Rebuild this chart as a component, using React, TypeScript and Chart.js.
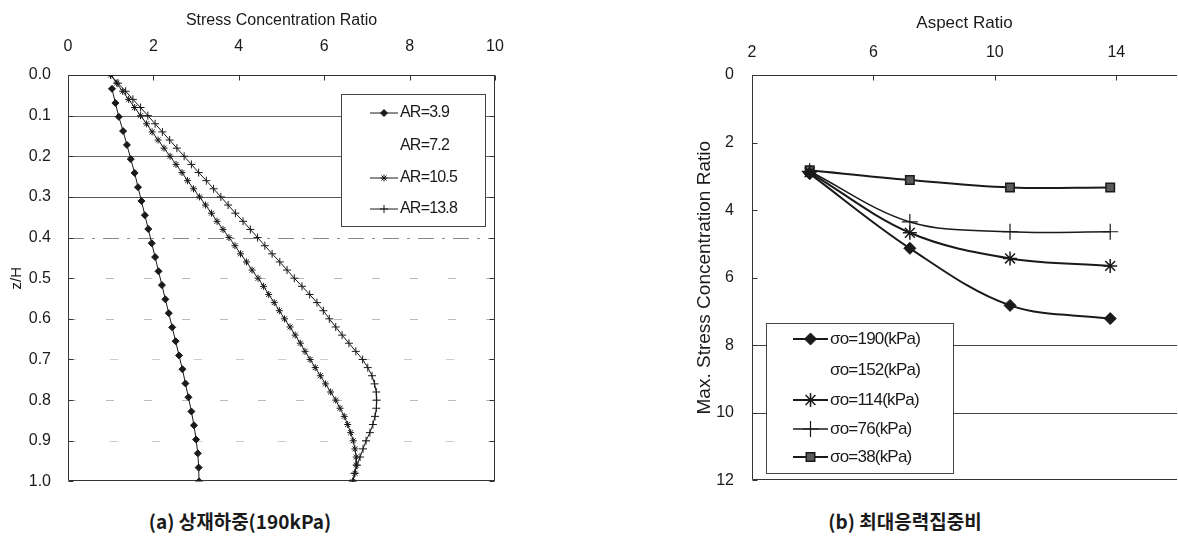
import React, { useEffect, useRef } from 'react';
import { Chart, registerables } from 'chart.js';
import { drawPoint } from 'chart.js/helpers';

Chart.register(...registerables);

// ---------- Left chart data: z/H vs stress concentration ratio (190 kPa) ----------
const leftLabels = ['AR=3.9', 'AR=7.2', 'AR=10.5', 'AR=13.8'];
const leftXTicks = [0, 2, 4, 6, 8, 10];
const leftYTicks = [0.0, 0.1, 0.2, 0.3, 0.4, 0.5, 0.6, 0.7, 0.8, 0.9, 1.0];

const zDiamond = [
  0.034, 0.069, 0.103, 0.138, 0.172, 0.207, 0.241, 0.276, 0.31, 0.345,
  0.379, 0.414, 0.448, 0.483, 0.517, 0.552, 0.586, 0.621, 0.655, 0.69,
  0.724, 0.759, 0.793, 0.828, 0.862, 0.897, 0.931, 0.966, 1.0,
];
const ar39 = [
  1.03, 1.11, 1.19, 1.29, 1.38, 1.47, 1.56, 1.64, 1.72, 1.8,
  1.88, 1.96, 2.04, 2.12, 2.2, 2.28, 2.36, 2.44, 2.52, 2.6,
  2.68, 2.75, 2.82, 2.89, 2.95, 3.0, 3.04, 3.06, 3.07,
];

const zDense = [
  0.0, 0.02, 0.04, 0.06, 0.08, 0.1, 0.12, 0.14, 0.16, 0.18,
  0.2, 0.22, 0.24, 0.26, 0.28, 0.3, 0.32, 0.34, 0.36, 0.38,
  0.4, 0.42, 0.44, 0.46, 0.48, 0.5, 0.52, 0.54, 0.56, 0.58,
  0.6, 0.62, 0.64, 0.66, 0.68, 0.7, 0.72, 0.74, 0.76, 0.78,
  0.8, 0.82, 0.84, 0.86, 0.88, 0.9, 0.92, 0.94, 0.96, 0.98, 1.0,
];
const ar105 = [
  1.0, 1.14, 1.28, 1.42, 1.56, 1.7, 1.84, 1.97, 2.11, 2.25,
  2.39, 2.53, 2.67, 2.8, 2.94, 3.08, 3.22, 3.36, 3.49, 3.63,
  3.77, 3.91, 4.04, 4.18, 4.31, 4.45, 4.58, 4.7, 4.83, 4.95,
  5.07, 5.2, 5.32, 5.44, 5.55, 5.67, 5.79, 5.91, 6.03, 6.15,
  6.27, 6.37, 6.47, 6.55, 6.62, 6.68, 6.72, 6.75, 6.75, 6.72, 6.67,
];
const ar138 = [
  1.0, 1.17, 1.35, 1.52, 1.7, 1.87, 2.04, 2.21, 2.38, 2.55,
  2.72, 2.89, 3.06, 3.24, 3.41, 3.58, 3.75, 3.92, 4.1, 4.27,
  4.44, 4.61, 4.78, 4.96, 5.13, 5.3, 5.48, 5.66, 5.83, 5.98,
  6.12, 6.27, 6.42, 6.58, 6.74, 6.9, 7.02, 7.12, 7.18, 7.22,
  7.23, 7.22, 7.19, 7.14, 7.07, 6.98, 6.91, 6.84, 6.77, 6.71, 6.67,
];

// ---------- Right chart data: max stress concentration ratio vs aspect ratio ----------
const rightLabels = ['σo=190(kPa)', 'σo=152(kPa)', 'σo=114(kPa)', 'σo=76(kPa)', 'σo=38(kPa)'];
const rightXTicks = [2, 6, 10, 14];
const rightYTicks = [0, 2, 4, 6, 8, 10, 12];
const aspectRatios = [3.9, 7.2, 10.5, 13.8];
const s190 = [2.92, 5.13, 6.82, 7.21];
const s114 = [2.88, 4.67, 5.43, 5.65];
const s76 = [2.85, 4.35, 4.64, 4.64];
const s38 = [2.82, 3.11, 3.33, 3.33];

const captionA = '(a) 상재하중(190kPa)';
const captionB = '(b) 최대응력집중비';

const FONT = "'Liberation Sans', Arial, sans-serif";
const INK = '#1a1a1a';

const framePlugin = {
  id: 'frame',
  beforeDatasetsDraw(chart: any, _args: any, opts: any) {
    const { ctx, chartArea: a, scales } = chart;
    ctx.save();
    ctx.lineWidth = 1;
    (opts.grid || []).forEach((g: any) => {
      const y = Math.round(scales.y.getPixelForValue(g.value)) + 0.5;
      ctx.beginPath();
      ctx.setLineDash(g.dash || []);
      ctx.strokeStyle = g.color;
      ctx.moveTo(a.left, y);
      ctx.lineTo(a.right, y);
      ctx.stroke();
    });
    ctx.setLineDash([]);
    ctx.strokeStyle = '#333';
    const L = Math.round(a.left) + 0.5;
    const R = Math.round(a.right) - 0.5;
    const T = Math.round(a.top) + 0.5;
    const B = Math.round(a.bottom) - 0.5;
    ctx.beginPath();
    ctx.moveTo(L, T); ctx.lineTo(R + 0.5, T);
    ctx.moveTo(L, T); ctx.lineTo(L, B);
    ctx.moveTo(L, B); ctx.lineTo(R + 0.5, B);
    if (opts.rightBorder) { ctx.moveTo(R, T); ctx.lineTo(R, B); }
    ctx.stroke();
    ctx.beginPath();
    scales.x.ticks.forEach((t: any) => {
      const x = Math.round(scales.x.getPixelForValue(t.value)) + 0.5;
      ctx.moveTo(x, T); ctx.lineTo(x, T + 5);
    });
    scales.y.ticks.forEach((t: any) => {
      const y = Math.round(scales.y.getPixelForValue(t.value)) + 0.5;
      ctx.moveTo(L, y); ctx.lineTo(L + 5, y);
      if (opts.rightBorder) { ctx.moveTo(R, y); ctx.lineTo(R - 5, y); }
    });
    ctx.stroke();
    ctx.restore();
  },
};

const boxLegendPlugin = {
  id: 'boxLegend',
  afterDatasetsDraw(chart: any, _args: any, opts: any) {
    const { ctx } = chart;
    const { box, rows, lineX1, lineX2, textX, fontSize } = opts;
    ctx.save();
    ctx.fillStyle = '#fff';
    ctx.fillRect(box.x, box.y, box.w, box.h);
    ctx.strokeStyle = '#444';
    ctx.lineWidth = 1;
    ctx.strokeRect(box.x + 0.5, box.y + 0.5, box.w, box.h);
    chart.data.datasets.forEach((ds: any, i: number) => {
      const y = rows[i];
      if (ds.data.length > 0) {
        ctx.strokeStyle = ds.borderColor;
        ctx.lineWidth = ds.borderWidth;
        ctx.beginPath();
        ctx.moveTo(lineX1, y);
        ctx.lineTo(lineX2, y);
        ctx.stroke();
        ctx.fillStyle = ds.backgroundColor;
        ctx.strokeStyle = ds.borderColor;
        ctx.lineWidth = ds.pointBorderWidth;
        drawPoint(ctx, {
          pointStyle: ds.pointStyle,
          radius: ds.pointRadius,
          rotation: 0,
          borderWidth: ds.pointBorderWidth,
        } as any, (lineX1 + lineX2) / 2, y);
      }
      ctx.fillStyle = INK;
      ctx.font = `${fontSize}px ${FONT}`;
      (ctx as any).letterSpacing = '-0.8px';
      ctx.textBaseline = 'middle';
      ctx.textAlign = 'left';
      ctx.fillText(ds.label, textX, y);
    });
    ctx.restore();
  },
};

function LeftChart() {
  const ref = useRef<HTMLCanvasElement>(null);
  useEffect(() => {
    const chart = new Chart(ref.current as HTMLCanvasElement, {
      type: 'line',
      data: {
        datasets: [
          {
            label: leftLabels[0],
            data: zDiamond.map((z, i) => ({ x: ar39[i], y: z })),
            borderColor: INK, backgroundColor: INK, borderWidth: 1,
            pointStyle: 'rectRot', pointRadius: 3.5, pointBorderWidth: 1,
          },
          {
            label: leftLabels[1], data: [],
            borderColor: INK, backgroundColor: INK, borderWidth: 1,
            pointRadius: 0, pointBorderWidth: 0,
          },
          {
            label: leftLabels[2],
            data: zDense.map((z, i) => ({ x: ar105[i], y: z })),
            borderColor: INK, backgroundColor: INK, borderWidth: 1,
            pointStyle: 'star', pointRadius: 3.5, pointBorderWidth: 1,
          },
          {
            label: leftLabels[3],
            data: zDense.map((z, i) => ({ x: ar138[i], y: z })),
            borderColor: INK, backgroundColor: INK, borderWidth: 1,
            pointStyle: 'cross', pointRadius: 4, pointBorderWidth: 1,
          },
        ] as any,
      },
      options: {
        animation: false,
        responsive: false,
        layout: { autoPadding: false, padding: { left: 0, right: 35, top: 0, bottom: 17 } },
        plugins: {
          legend: { display: false },
          tooltip: { enabled: false },
          frame: {
            rightBorder: true,
            grid: [
              { value: 0.1, color: '#666' },
              { value: 0.2, color: '#666' },
              { value: 0.3, color: '#555' },
              { value: 0.4, color: '#888', dash: [16, 8, 3, 8] },
              { value: 0.5, color: '#bbb', dash: [8, 30] },
              { value: 0.6, color: '#bbb', dash: [8, 30] },
              { value: 0.7, color: '#ccc', dash: [8, 34] },
              { value: 0.8, color: '#bbb', dash: [8, 30] },
              { value: 0.9, color: '#ccc', dash: [8, 34] },
            ],
          },
          boxLegend: {
            box: { x: 341, y: 94, w: 144, h: 132 },
            rows: [113, 146, 178, 209],
            lineX1: 370, lineX2: 398, textX: 400, fontSize: 16,
          },
        } as any,
        scales: {
          x: {
            type: 'linear', position: 'top', min: 0, max: 10,
            afterBuildTicks: (s: any) => { s.ticks = leftXTicks.map((v) => ({ value: v })); },
            ticks: { padding: 11, color: INK, font: { size: 16, family: FONT } },
            grid: { display: false }, border: { display: false },
            title: {
              display: true, text: 'Stress Concentration Ratio', color: INK,
              font: { size: 16, family: FONT }, padding: { top: 11, bottom: 0 },
            },
            afterFit: (s: any) => { s.height = 75; },
          },
          y: {
            type: 'linear', reverse: true, min: 0, max: 1,
            afterBuildTicks: (s: any) => { s.ticks = leftYTicks.map((v) => ({ value: v })); },
            ticks: {
              padding: 9, color: INK, font: { size: 16, family: FONT },
              callback: (v: any) => Number(v).toFixed(1),
            },
            grid: { display: false }, border: { display: false },
            title: {
              display: true, text: 'z/H', color: INK,
              font: { size: 15, family: FONT }, padding: { top: 8, bottom: 0 },
            },
            afterFit: (s: any) => { s.width = 68; },
          },
        } as any,
      },
      plugins: [framePlugin, boxLegendPlugin],
    });
    return () => chart.destroy();
  }, []);
  return <canvas ref={ref} width={530} height={500} style={{ width: 530, height: 500, display: 'block' }} />;
}

function RightChart() {
  const ref = useRef<HTMLCanvasElement>(null);
  useEffect(() => {
    const mk = (vals: number[]) => aspectRatios.map((x, i) => ({ x, y: vals[i] }));
    const chart = new Chart(ref.current as HTMLCanvasElement, {
      type: 'line',
      data: {
        datasets: [
          {
            label: rightLabels[0], data: mk(s190),
            borderColor: INK, backgroundColor: INK, borderWidth: 2,
            pointStyle: 'rectRot', pointRadius: 6, pointBorderWidth: 1,
          },
          {
            label: rightLabels[1], data: [],
            borderColor: INK, backgroundColor: INK, borderWidth: 2,
            pointRadius: 0, pointBorderWidth: 0,
          },
          {
            label: rightLabels[2], data: mk(s114),
            borderColor: INK, backgroundColor: INK, borderWidth: 2,
            pointStyle: 'star', pointRadius: 7, pointBorderWidth: 1.5,
          },
          {
            label: rightLabels[3], data: mk(s76),
            borderColor: INK, backgroundColor: INK, borderWidth: 1.5,
            pointStyle: 'cross', pointRadius: 8, pointBorderWidth: 1.2,
          },
          {
            label: rightLabels[4], data: mk(s38),
            borderColor: INK, backgroundColor: '#5a5a5a', borderWidth: 2,
            pointStyle: 'rect', pointRadius: 6, pointBorderWidth: 1.5,
          },
        ] as any,
      },
      options: {
        animation: false,
        responsive: false,
        elements: { line: { tension: 0.35 } },
        layout: { autoPadding: false, padding: { left: 0, right: 1, top: 0, bottom: 17 } },
        plugins: {
          legend: { display: false },
          tooltip: { enabled: false },
          frame: {
            rightBorder: false,
            grid: [
              { value: 8, color: '#444' },
              { value: 10, color: '#444' },
            ],
          },
          boxLegend: {
            box: { x: 86, y: 323, w: 187, h: 150 },
            rows: [339, 370, 400, 429, 457],
            lineX1: 113, lineX2: 148, textX: 150, fontSize: 17,
          },
        } as any,
        scales: {
          x: {
            type: 'linear', position: 'top', min: 2, max: 16,
            afterBuildTicks: (s: any) => { s.ticks = rightXTicks.map((v) => ({ value: v })); },
            ticks: { padding: 5, color: INK, font: { size: 16, family: FONT } },
            grid: { display: false }, border: { display: false },
            title: {
              display: true, text: 'Aspect Ratio', color: INK,
              font: { size: 17, family: FONT }, padding: { top: 13, bottom: 0 },
            },
            afterFit: (s: any) => { s.height = 75; },
          },
          y: {
            type: 'linear', reverse: true, min: 0, max: 12,
            afterBuildTicks: (s: any) => { s.ticks = rightYTicks.map((v) => ({ value: v })); },
            ticks: { padding: 10, color: INK, font: { size: 16, family: FONT } },
            grid: { display: false }, border: { display: false },
            title: {
              display: true, text: 'Max. Stress Concentration Ratio', color: INK,
              font: { size: 19, family: FONT }, padding: { top: 13, bottom: 0 },
            },
            afterFit: (s: any) => { s.width = 72; },
          },
        } as any,
      },
      plugins: [framePlugin, boxLegendPlugin],
    });
    return () => chart.destroy();
  }, []);
  return <canvas ref={ref} width={498} height={500} style={{ width: 498, height: 500, display: 'block' }} />;
}

const captionStyle: React.CSSProperties = {
  position: 'absolute',
  top: 508,
  transform: 'translateX(-50%)',
  whiteSpace: 'nowrap',
  fontFamily: "'Noto Sans CJK KR', 'Noto Sans', sans-serif",
  fontWeight: 700,
  fontSize: 19,
  lineHeight: '26px',
  color: INK,
};

export default function App() {
  return (
    <div style={{ position: 'absolute', left: 0, top: 0, width: 1178, height: 542, background: '#fff', overflow: 'hidden' }}>
      <div style={{ position: 'absolute', left: 0, top: 0 }}>
        <LeftChart />
      </div>
      <div style={{ position: 'absolute', left: 680, top: 0 }}>
        <RightChart />
      </div>
      <div style={{ ...captionStyle, left: 240 }}>{captionA}</div>
      <div style={{ ...captionStyle, left: 905 }}>{captionB}</div>
    </div>
  );
}
